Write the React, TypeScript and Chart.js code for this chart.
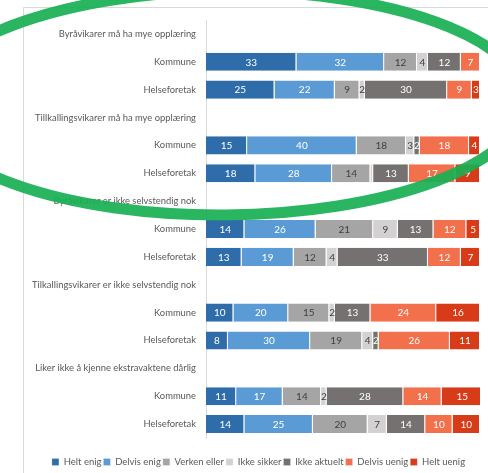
import React, { useEffect, useRef } from "react";
import { Chart, registerables } from "chart.js";

Chart.register(...registerables);

const categories = [
  "Byråvikarer må ha mye opplæring", "Kommune", "Helseforetak",
  "Tillkallingsvikarer må ha mye opplæring", "Kommune", "Helseforetak",
  "Byråvikarer er ikke selvstendig nok", "Kommune", "Helseforetak",
  "Tilkallingsvikarer er ikke selvstendig nok", "Kommune", "Helseforetak",
  "Liker ikke å kjenne ekstravaktene dårlig", "Kommune", "Helseforetak",
];

const seriesNames = ["Helt enig", "Delvis enig", "Verken eller", "Ikke sikker", "Ikke aktuelt", "Delvis uenig", "Helt uenig"];

const heltEnig = [null, 33, 25, null, 15, 18, null, 14, 13, null, 10, 8, null, 11, 14];
const delvisEnig = [null, 32, 22, null, 40, 28, null, 26, 19, null, 20, 30, null, 17, 25];
const verkenEller = [null, 12, 9, null, 18, 14, null, 21, 12, null, 15, 19, null, 14, 20];
const ikkeSikker = [null, 4, 2, null, 3, 1, null, 9, 4, null, 2, 4, null, 2, 7];
const ikkeAktuelt = [null, 12, 30, null, 2, 13, null, 13, 33, null, 13, 2, null, 28, 14];
const delvisUenig = [null, 7, 9, null, 18, 17, null, 12, 12, null, 24, 26, null, 14, 10];
const heltUenig = [null, 0, 3, null, 4, 9, null, 5, 7, null, 16, 11, null, 15, 10];

const seriesValues = [heltEnig, delvisEnig, verkenEller, ikkeSikker, ikkeAktuelt, delvisUenig, heltUenig];
const seriesColors = ["#2E6DA9", "#5B9BD5", "#A5A5A5", "#D3D1D1", "#767171", "#F2704C", "#D73B17"];
const labelColors = ["#ffffff", "#ffffff", "#404040", "#404040", "#ffffff", "#ffffff", "#ffffff"];

const FONT = "Lato, 'Liberation Sans', sans-serif";
const PAD_LEFT = 23;
const LEGEND_SHIFT = 7;

const framePlugin = {
  id: "frame",
  beforeDraw(chart: any) {
    const ctx = chart.ctx;
    ctx.save();
    ctx.fillStyle = "#ffffff";
    ctx.fillRect(0, 0, chart.width, chart.height);
    ctx.strokeStyle = "#d9d9d9";
    ctx.lineWidth = 1;
    ctx.beginPath();
    ctx.moveTo(23.5, chart.height);
    ctx.lineTo(23.5, 7.5);
    ctx.lineTo(chart.width, 7.5);
    ctx.stroke();
    ctx.restore();
  },
};

const legendShiftPlugin = {
  id: "legendShift",
  afterLayout(chart: any) {
    const lg = chart.legend;
    if (lg) {
      lg.left += LEGEND_SHIFT;
      lg.right += LEGEND_SHIFT;
    }
  },
};

const valueLabelPlugin = {
  id: "valueLabels",
  afterDatasetsDraw(chart: any) {
    const ctx = chart.ctx;
    ctx.save();
    ctx.font = `10px ${FONT}`;
    ctx.textAlign = "center";
    ctx.textBaseline = "middle";
    chart.data.datasets.forEach((ds: any, di: number) => {
      const meta = chart.getDatasetMeta(di);
      meta.data.forEach((el: any, i: number) => {
        const v = ds.data[i];
        if (v == null || v < 2) return;
        const p = el.getCenterPoint();
        ctx.fillStyle = labelColors[di];
        ctx.fillText(String(v), p.x, p.y + 0.5);
      });
    });
    ctx.restore();
  },
};

const ellipsePlugin = {
  id: "highlightEllipse",
  afterDraw(chart: any) {
    const ctx = chart.ctx;
    ctx.save();
    ctx.strokeStyle = "rgba(24,176,84,0.92)";
    ctx.lineWidth = 11;
    ctx.beginPath();
    ctx.ellipse(225, 103, 300, 112, -0.008, 0, Math.PI * 2);
    ctx.stroke();
    ctx.restore();
  },
};

export default function App() {
  const ref = useRef<HTMLCanvasElement | null>(null);

  useEffect(() => {
    if (!ref.current) return;
    const chart = new Chart(ref.current, {
      type: "bar",
      data: {
        labels: categories,
        datasets: seriesNames.map((name, i) => ({
          label: name,
          data: seriesValues[i],
          backgroundColor: seriesColors[i],
          borderColor: "#ffffff",
          borderWidth: { top: 0, bottom: 0, left: 0, right: 1 },
          borderSkipped: false,
          barPercentage: 0.65,
          categoryPercentage: 1,
        })) as any,
      },
      options: {
        indexAxis: "y",
        animation: false,
        responsive: false,
        maintainAspectRatio: false,
        layout: { padding: { top: 20, right: 8, left: PAD_LEFT, bottom: -3.75 } },
        scales: {
          x: {
            stacked: true,
            min: 0,
            max: 100,
            display: true,
            ticks: { display: false },
            grid: { display: false, drawTicks: false },
            border: { display: false },
            afterFit: (scale: any) => {
              scale.height = 17.25;
            },
          },
          y: {
            stacked: true,
            grid: { display: false, drawTicks: false },
            border: { display: true, color: "#d9d9d9" },
            ticks: {
              color: "#595959",
              font: { family: FONT, size: 9.4 },
              padding: 10,
              autoSkip: false,
            },
            afterFit: (scale: any) => {
              scale.width = 206 - PAD_LEFT;
            },
          },
        },
        plugins: {
          legend: {
            position: "bottom",
            labels: {
              boxWidth: 7,
              boxHeight: 7,
              padding: 2,
              color: "#595959",
              font: { family: FONT, size: 9.5 },
            },
          },
          tooltip: { enabled: false },
        },
      } as any,
      plugins: [framePlugin, legendShiftPlugin, valueLabelPlugin, ellipsePlugin],
    });
    return () => chart.destroy();
  }, []);

  return (
    <div style={{ position: "fixed", left: 0, top: 0, width: 488, height: 473, background: "#fff" }}>
      <canvas ref={ref} width={488} height={473} style={{ display: "block", width: 488, height: 473 }} />
    </div>
  );
}
